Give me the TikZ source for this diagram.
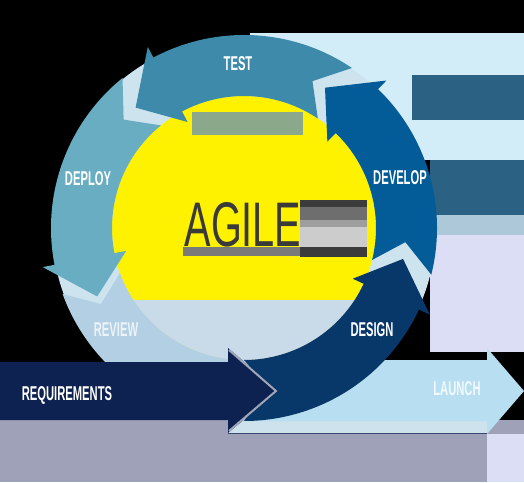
\documentclass[tikz,border=0pt]{standalone}
\usepackage{fontspec}
\newfontfamily\labelfont[FakeStretch=0.56]{Liberation Sans}
\newfontfamily\titlefont[FakeStretch=0.63]{Liberation Sans}
%
\definecolor{TESTC}{HTML}{3D8AAB}
\definecolor{DEPLOYC}{HTML}{69ADC3}
\definecolor{REVIEWC}{HTML}{B3CFE3}
\definecolor{DEVELOPC}{HTML}{035B97}
\definecolor{DESIGNC}{HTML}{08386A}
\definecolor{REQC}{HTML}{0E2251}
\definecolor{LAUNCHC}{HTML}{B8DFF1}
\definecolor{GRAYC}{HTML}{9EA1B7}
\definecolor{RINGC}{HTML}{CDE3EE}
\definecolor{INLIGHT}{HTML}{C9DBE8}
\definecolor{SAGE}{HTML}{8BA88A}
\definecolor{SLATE}{HTML}{2B6284}
\definecolor{CYANBAND}{HTML}{D2ECF8}
\definecolor{LAVEN}{HTML}{DCDEF6}
\definecolor{AGILEC}{HTML}{3A3A3A}
%
% ring arrow: fill, tail angle, notch depth, tip angle
\newcommand{\ringarrow}[4]{%
  \pgfmathsetmacro{\barb}{#4-14}
  \pgfmathsetmacro{\nch}{#2+#3}
  \fill[#1] (#2:193) arc[start angle=#2, end angle=\barb, radius=193]
     -- (\barb:205) -- (#4:162) -- (\barb:120) -- (\barb:132)
     arc[start angle=\barb, end angle=#2, radius=132] -- (\nch:162) -- cycle;
}
%
\begin{document}
\begin{tikzpicture}
[
 x=1pt, y=1pt,
 inner sep=0pt,
 LABEL/.style={text=white, anchor=base, font=\labelfont\bfseries\fontsize{20}{20}\selectfont},
 TITLE/.style={text=AGILEC, anchor=base, font=\titlefont\fontsize{63}{63}\selectfont},
 ]
%
\useasboundingbox (0,0) rectangle (524,482);
\fill[black] (0,0) rectangle (524,482);
%
% bands on the right and at the bottom
\fill[CYANBAND] (250,407) rectangle (524,449);
\fill[CYANBAND] (330,322) rectangle (524,407);
\fill[SLATE]    (412,362) rectangle (524,407);
\fill[SLATE]    (430,267) rectangle (524,322);
\fill[RINGC!80!SLATE] (430,247) rectangle (524,267);
\fill[LAVEN]    (430,130) rectangle (524,247);
\fill[GRAYC]    (0,0) rectangle (524,62);
\fill[LAVEN]    (487,0) rectangle (524,48);
\fill[RINGC!90!INLIGHT] (228,49) rectangle (487,62);
\draw[REQC!70!GRAYC, thick] (228,49) -- (487,49);
%
\begin{scope}[shift={(244,254)}]
  \fill[RINGC, even odd rule] (0,0) circle[radius=192] (0,0) circle[radius=131];
  \begin{scope}
    \clip (0,0) circle[radius=132];
    \fill[yellow] (-132,-132) rectangle (132,132);
    \fill[INLIGHT] (-132,-132) rectangle (132,-72);
    \fill[SAGE] (-52,93) rectangle (59,116);
  \end{scope}
  %
  \fill[REVIEWC] (200:193) arc[start angle=200, end angle=270, radius=193]
     -- (270:132) arc[start angle=270, end angle=200, radius=132] -- (208:162) -- cycle;
\end{scope}
%
\fill[LAUNCHC] (244,122) -- (487,122) -- (487,134) -- (524,91) -- (487,48) -- (487,61) -- (244,61) -- cycle;
%
\begin{scope}[shift={(244,254)}]
  \ringarrow{DEPLOYC}{129}{9}{205}
  \ringarrow{TESTC}{56}{9}{132}
  \ringarrow{DEVELOPC}{-14}{9}{60}
  \ringarrow{DESIGNC}{-90}{9}{-11}
\end{scope}
%
\fill[REQC] (0,62) -- (228,62) -- (228,49) -- (278,91) -- (228,134) -- (228,120) -- (0,120) -- cycle;
\draw[REQC!40!white, line width=2pt] (229,132) -- (276,91) -- (229,51);
%
% grey blocks round the title
\fill[black!77] (300,225) rectangle (367,235);
\fill[black!20] (300,235) rectangle (367,255);
\fill[black!38] (300,255) rectangle (367,262);
\fill[black!57] (300,262) rectangle (367,275);
\fill[black!77] (300,275) rectangle (367,282);
\fill[black!52] (183,226) rectangle (300,235);
%
\node [TITLE] (AGILE)  at (243,235) {AGILE};
%
\node [LABEL] (TEST)    at (238,411) {TEST};
\node [LABEL] (DEVELOP) at (400,297) {DEVELOP};
\node [LABEL] (DEPLOY)  at (88,296)  {DEPLOY};
\node [LABEL, text=REVIEWC!25!white] (REVIEW) at (116,146) {REVIEW};
\node [LABEL] (DESIGN)  at (372,146) {DESIGN};
\node [LABEL] (REQ)     at (67,82)   {REQUIREMENTS};
\node [LABEL, text=LAUNCHC!20!white] (LAUNCH) at (457,87) {LAUNCH};
%
\end{tikzpicture}
\end{document}
